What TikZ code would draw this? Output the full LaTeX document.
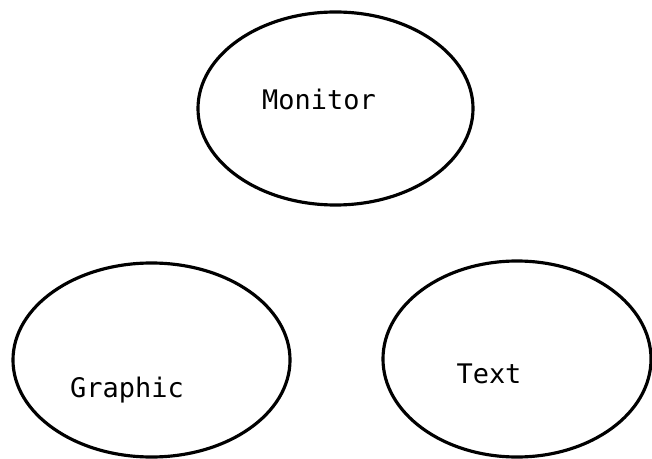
\documentclass[tikz,border=0pt]{standalone}
\usepackage{fontspec}
\newfontfamily\typefont{DejaVu Sans Mono}
\usetikzlibrary{shapes.geometric}
\begin{document}
\begin{tikzpicture}[x=0.03cm,y=-0.03cm]
    \tikzset{% This is the style settings for nodes
    part/.style={ellipse,draw=black,line width=2.7pt,inner sep=0pt},
    lbl/.style={anchor=base,inner sep=0pt,font=\typefont\fontsize{23}{28}\selectfont},
    }
    \useasboundingbox (0,0) rectangle (652,459);
    % Ellipses
    \node[part,minimum width=8.25cm,minimum height=5.79cm] (mon) at (335.5,108.5) {};
    \node[part,minimum width=8.31cm,minimum height=5.82cm] (gra) at (151.5,360) {};
    \node[part,minimum width=8.04cm,minimum height=5.88cm] (txt) at (517,359) {};

    % Labels
    \node[lbl] (monl) at (319,110) {Monitor};
    \node[lbl] (gral) at (127,397) {Graphic};
    \node[lbl] (txtl) at (489,383) {Text};
\end{tikzpicture}
\end{document}
